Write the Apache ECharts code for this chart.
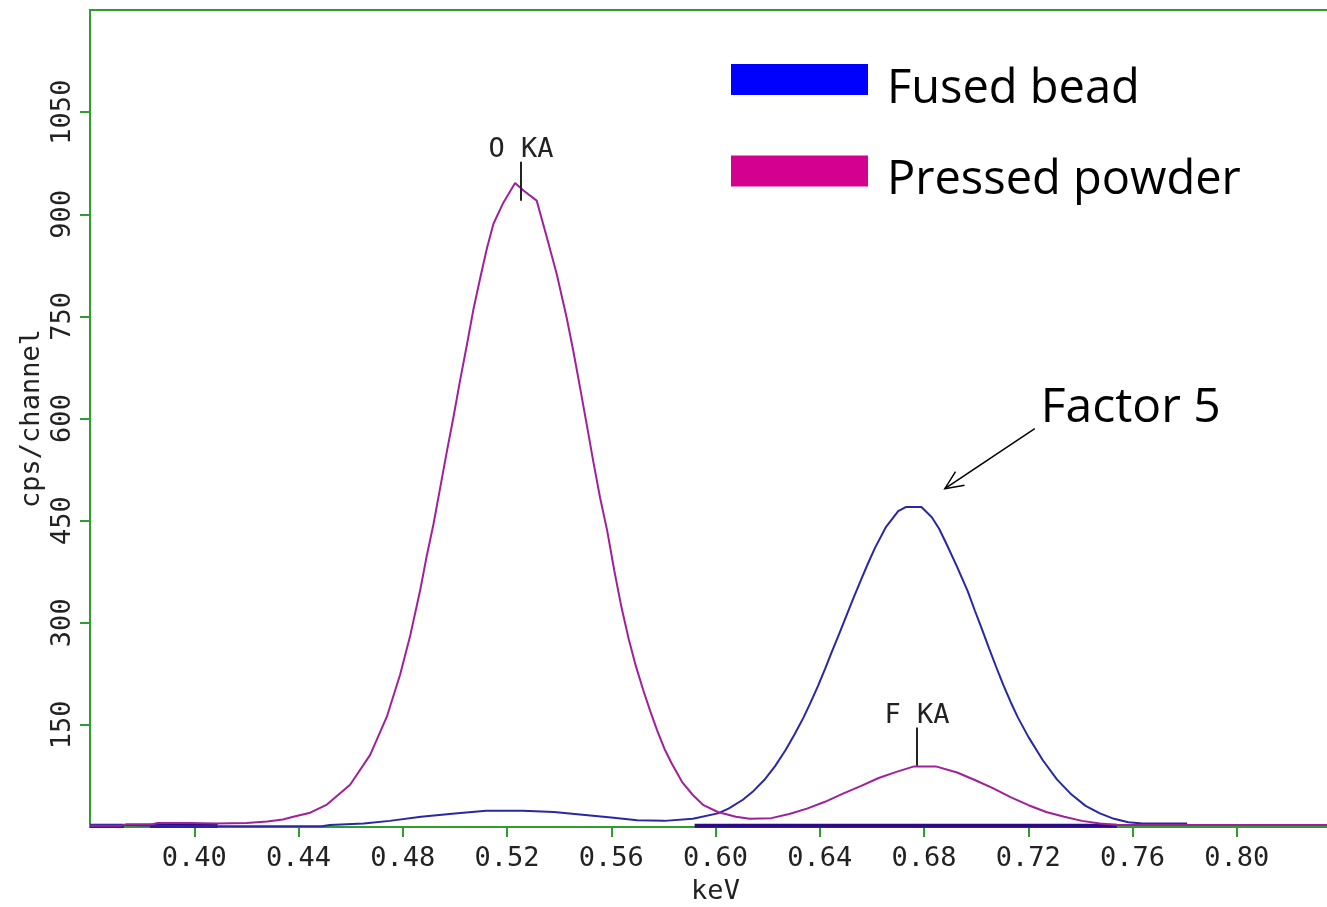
<!DOCTYPE html>
<html>
<head>
<meta charset="utf-8">
<script src="https://cdn.jsdelivr.net/npm/echarts@6/dist/echarts.min.js"></script>
<style>
html,body{margin:0;padding:0;background:#ffffff;}
#chart{width:1327px;height:907px;}
</style>
</head>
<body>
<div id="chart"></div>
<script>
// ---- data ----
const xTickValues = [0.40, 0.44, 0.48, 0.52, 0.56, 0.60, 0.64, 0.68, 0.72, 0.76, 0.80];
const yTickValues = [150, 300, 450, 600, 750, 900, 1050];

// Fused bead (x5), keV vs cps/channel
const fusedBead = [
  [0.360, 3], [0.372, 3], [0.400, 1], [0.449, 1], [0.452, 3], [0.465, 5], [0.475, 9],
  [0.487, 15], [0.500, 20], [0.512, 24], [0.526, 24], [0.538, 22], [0.549, 18],
  [0.560, 14], [0.570, 10], [0.5804, 9], [0.5913, 12], [0.6009, 20], [0.6050, 27],
  [0.6105, 40], [0.6146, 53], [0.6187, 69], [0.6228, 89], [0.6269, 113], [0.6303, 136],
  [0.6338, 161], [0.6365, 183], [0.6393, 207], [0.6420, 232], [0.6447, 258], [0.6475, 284],
  [0.6502, 310], [0.6530, 337], [0.6557, 362], [0.6585, 387], [0.6612, 410], [0.6653, 440],
  [0.6701, 464], [0.6730, 470], [0.6790, 470], [0.6830, 455], [0.6858, 438], [0.6886, 416],
  [0.6927, 382], [0.6968, 346], [0.6995, 318], [0.7023, 290], [0.7050, 262], [0.7077, 235],
  [0.7105, 208], [0.7132, 184], [0.7160, 161], [0.7201, 132], [0.7256, 98], [0.7310, 70],
  [0.7365, 48], [0.7420, 31], [0.7475, 20], [0.7529, 12], [0.7584, 7], [0.7639, 5],
  [0.7810, 5]
];

// Pressed powder, keV vs cps/channel
const pressedPowder = [
  [0.360, 2], [0.372, 2], [0.374, 4], [0.384, 4], [0.386, 6], [0.398, 6], [0.4085, 5],
  [0.420, 6], [0.428, 8], [0.434, 11], [0.4380, 15], [0.4445, 21], [0.4509, 33],
  [0.4598, 62], [0.4675, 106], [0.4739, 162], [0.4790, 224], [0.4828, 280], [0.4867, 348],
  [0.4892, 398], [0.4918, 445], [0.4943, 497], [0.4969, 551], [0.4995, 603], [0.5020, 656],
  [0.5046, 708], [0.5071, 760], [0.5097, 806], [0.5123, 850], [0.5148, 886], [0.5186, 917],
  [0.5231, 946], [0.5263, 935], [0.5314, 920], [0.5353, 866], [0.5391, 812], [0.5429, 748],
  [0.5455, 698], [0.5480, 646], [0.5506, 591], [0.5531, 537], [0.5557, 484], [0.5584, 436],
  [0.5612, 376], [0.5639, 323], [0.5667, 276], [0.5694, 237], [0.5722, 202], [0.5749, 171],
  [0.5776, 142], [0.5804, 115], [0.5831, 94], [0.5872, 66], [0.5913, 47], [0.5954, 32],
  [0.6009, 22], [0.6078, 15], [0.6132, 12], [0.6214, 13], [0.6283, 19], [0.6351, 27],
  [0.6420, 37], [0.6489, 49], [0.6557, 60], [0.6626, 72], [0.6694, 81], [0.6762, 89],
  [0.6845, 89], [0.6927, 80], [0.6995, 69], [0.7064, 57], [0.7132, 44], [0.7201, 32],
  [0.7269, 22], [0.7338, 15], [0.7406, 9], [0.7475, 5], [0.7543, 3], [0.7612, 3], [0.840, 3]
];

// dark baseline trace segments seen along the bottom of the spectrum
const baselineBand = [
  [0.360, 2], [0.373, 2], [null, null], [0.383, 2], [0.409, 2], [null, null],
  [0.592, 2], [0.754, 2]
];

const peakMarkers = [
  { name: 'O KA', kev: 0.5254, from: 920, to: 977 },
  { name: 'F KA', kev: 0.6773, from: 90, to: 146 }
];

const factorNote = { text: 'Factor 5', tail: [0.7225, 585], tip: [0.6880, 497] };

const seriesNames = ['Fused bead', 'Pressed powder'];
const legendColors = ['#0000FF', '#D4008F'];
const lineColors = ['#2828A4', '#A0209C'];

// ---- chart ----
const chart = echarts.init(document.getElementById('chart'), null, { renderer: 'canvas' });
const mono = 'DejaVu Sans Mono';
const green = '#2E9E2E';

const option = {
  animation: false,
  backgroundColor: '#ffffff',
  grid: {
    left: 90, top: 10, right: -14, bottom: 80,
    outerBoundsMode: 'none', containLabel: false,
    show: true, borderColor: green, borderWidth: 2, backgroundColor: 'transparent'
  },
  legend: {
    left: 731, top: 54.5, orient: 'vertical', padding: 0,
    itemWidth: 137, itemHeight: 31, itemGap: 33, icon: 'rect',
    selectedMode: false,
    formatter: n => '{s| }\n{t|' + n + '}',
    textStyle: {
      fontFamily: 'Open Sans', fontSize: 47, color: '#000',
      rich: {
        s: { fontSize: 10, lineHeight: 20 },
        t: { fontFamily: 'Open Sans', fontSize: 47, color: '#000', lineHeight: 40, padding: [0, 0, 0, 14] }
      }
    },
    data: seriesNames.map((n, i) => ({ name: n, itemStyle: { color: legendColors[i] } }))
  },
  xAxis: {
    type: 'value', min: 0.36, max: 0.84, interval: 0.04,
    name: 'keV', nameLocation: 'middle', nameGap: 51,
    nameTextStyle: { fontFamily: mono, fontSize: 27, color: '#222' },
    axisLine: { show: true, onZero: false, lineStyle: { color: green, width: 2 } },
    axisTick: { show: true, length: 10, lineStyle: { color: green, width: 2 }, customValues: xTickValues },
    axisLabel: {
      fontFamily: mono, fontSize: 27, color: '#222', margin: 18,
      customValues: xTickValues, formatter: v => Number(v).toFixed(2)
    },
    splitLine: { show: false }
  },
  yAxis: {
    type: 'value', min: 0, max: 1200, interval: 150,
    name: 'cps/channel', nameLocation: 'middle', nameGap: 45, nameRotate: 90,
    nameMoveOverlap: false,
    nameTextStyle: { fontFamily: mono, fontSize: 27, color: '#222' },
    axisLine: { show: true, lineStyle: { color: green, width: 2 } },
    axisTick: { show: true, length: 10, lineStyle: { color: green, width: 2 }, customValues: yTickValues },
    axisLabel: {
      fontFamily: mono, fontSize: 27, color: '#222', margin: 14, rotate: 90,
      customValues: yTickValues, formatter: v => String(v)
    },
    splitLine: { show: false }
  },
  series: [
    {
      name: 'baseline', type: 'line', data: baselineBand, showSymbol: false, connectNulls: false,
      lineStyle: { color: '#2A0A86', width: 4 }, z: 1, silent: true
    },
    {
      name: seriesNames[0], type: 'line', data: fusedBead, showSymbol: false,
      lineStyle: { color: lineColors[0], width: 2 }, itemStyle: { color: lineColors[0] }, z: 2
    },
    {
      name: seriesNames[1], type: 'line', data: pressedPowder, showSymbol: false,
      lineStyle: { color: lineColors[1], width: 2 }, itemStyle: { color: lineColors[1] }, z: 3,
      markLine: {
        silent: true, symbol: ['none', 'none'],
        lineStyle: { color: '#222', width: 2, type: 'solid' },
        label: { show: true, position: 'end', formatter: '{b}', distance: -2,
                 fontFamily: mono, fontSize: 27, color: '#222' },
        data: peakMarkers.map(p => [ { coord: [p.kev, p.from], name: p.name }, { coord: [p.kev, p.to] } ])
      }
    }
  ]
};
chart.setOption(option);

// annotation: "Factor 5" with open arrow pointing at the fused-bead peak
const tail = chart.convertToPixel({ gridIndex: 0 }, factorNote.tail);
const tip = chart.convertToPixel({ gridIndex: 0 }, factorNote.tip);
const ang = Math.atan2(tail[1] - tip[1], tail[0] - tip[0]);
const headLen = 20, spread = 0.42;
const w1 = [tip[0] + headLen * Math.cos(ang - spread), tip[1] + headLen * Math.sin(ang - spread)];
const w2 = [tip[0] + headLen * Math.cos(ang + spread), tip[1] + headLen * Math.sin(ang + spread)];
chart.setOption({
  graphic: [
    { type: 'line', shape: { x1: tail[0], y1: tail[1], x2: tip[0], y2: tip[1] },
      style: { stroke: '#000', lineWidth: 1.5 }, silent: true },
    { type: 'polyline', shape: { points: [w1, tip, w2] },
      style: { stroke: '#000', lineWidth: 1.5, fill: null }, silent: true },
    { type: 'text', x: tail[0] + 6, y: tail[1] - 20,
      style: { text: factorNote.text, fontFamily: 'Open Sans', fontSize: 48, fill: '#000',
               textVerticalAlign: 'middle', verticalAlign: 'middle' }, silent: true }
  ]
});
</script>
</body>
</html>
